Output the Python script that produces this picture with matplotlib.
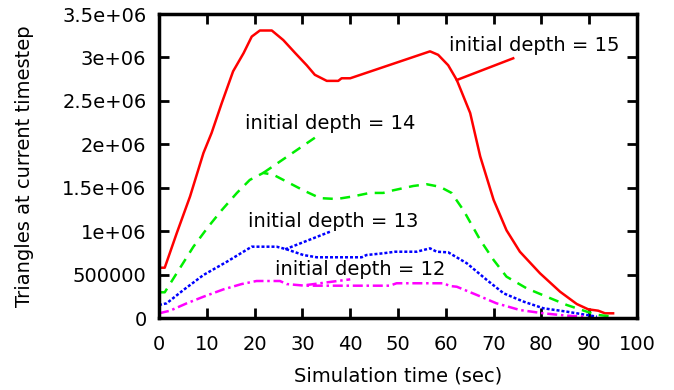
import matplotlib
matplotlib.use("Agg")
import matplotlib.pyplot as plt

# ── Data ──────────────────────────────────────────────────────────────
t15 = [0, 1.2, 3.7, 6.5, 9.3, 11, 13.1, 15.5, 17.7, 19.4, 21.1, 23.6, 26, 28.5,
       30.9, 32.6, 35.1, 37.5, 38.2, 40, 56.7, 58.4, 60.5, 62.3, 65.1, 67.2,
       70, 72.7, 75.5, 79.7, 83.9, 87.4, 89.8, 91.9, 93.3, 95]
y15 = [579e3, 579e3, 975e3, 1.40e6, 1.90e6, 2.13e6, 2.47e6, 2.84e6, 3.05e6,
       3.24e6, 3.31e6, 3.31e6, 3.20e6, 3.05e6, 2.91e6, 2.80e6, 2.73e6, 2.73e6,
       2.76e6, 2.76e6, 3.07e6, 3.03e6, 2.91e6, 2.74e6, 2.36e6, 1.86e6, 1.36e6,
       1.01e6, 763e3, 515e3, 303e3, 161e3, 100e3, 84e3, 54e3, 54e3]

t14 = [0, 1.2, 3.7, 7.2, 10.3, 13.1, 16.3, 19.0, 21.8, 23.9, 26.7, 30.2, 33.7,
       37.2, 40.6, 44.1, 46.9, 49, 53.2, 56, 58.8, 61.2, 63.7, 67.2, 70, 72.7,
       76.9, 81.1, 85.3, 89.5, 91.9, 95]
y14 = [296e3, 296e3, 515e3, 821e3, 1.05e6, 1.24e6, 1.44e6, 1.59e6, 1.67e6,
       1.65e6, 1.57e6, 1.47e6, 1.38e6, 1.37e6, 1.40e6, 1.44e6, 1.44e6, 1.47e6,
       1.52e6, 1.54e6, 1.51e6, 1.44e6, 1.24e6, 898e3, 668e3, 476e3, 342e3,
       245e3, 150e3, 73e3, 35e3, 15e3]

t13 = [0, 1.6, 5.1, 9.3, 14.2, 19.4, 24.6, 26.7, 30.2, 33, 42.4, 43.4, 46.9,
       49.4, 53.9, 56.7, 58.1, 60.5, 64.4, 68.6, 72.1, 76.3, 80.4, 85.3, 89.5,
       91.6]
y13 = [150e3, 169e3, 322e3, 495e3, 648e3, 821e3, 821e3, 791e3, 725e3, 699e3,
       699e3, 725e3, 745e3, 763e3, 763e3, 802e3, 763e3, 756e3, 630e3, 437e3,
       284e3, 188e3, 112e3, 73e3, 35e3, 15e3]

t12 = [0, 2.3, 5.8, 9.3, 13.5, 17.3, 20.4, 25.3, 26.7, 30.5, 48.3, 49.7, 59.5,
       60.9, 62.3, 66.5, 70.6, 75.5, 80.4, 85.3, 89.5]
y12 = [54e3, 84e3, 169e3, 245e3, 330e3, 391e3, 426e3, 426e3, 391e3, 372e3,
       372e3, 400e3, 400e3, 368e3, 360e3, 265e3, 169e3, 92e3, 54e3, 27e3, 15e3]

labels = ["initial depth = 15", "initial depth = 14",
          "initial depth = 13", "initial depth = 12"]
label_pos = [(78.5, 3.14e6), (35.8, 2.24e6), (36.5, 1.11e6), (42.0, 0.553e6)]
pointer_x = [(62.3, 74.1), (21.8, 33.0), (26.4, 35.8), (30.9, 40.0)]
pointer_y = [(2.74e6, 2.99e6), (1.67e6, 2.09e6), (0.791e6, 0.994e6), (0.38e6, 0.445e6)]

xticks = [0, 10, 20, 30, 40, 50, 60, 70, 80, 90, 100]
yticks = [0, 500000, 1e6, 1.5e6, 2e6, 2.5e6, 3e6, 3.5e6]
ytick_labels = ["0", "500000", "1e+06", "1.5e+06", "2e+06", "2.5e+06", "3e+06", "3.5e+06"]

colors = ["#ff0000", "#00ee00", "#0000ff", "#ff00ff"]
styles = ["-", (0, (4, 3)), (0, (1.2, 0.8)), (0, (4, 1.5, 1, 1.5))]

# ── Figure ─────────────────────────────────────────────────────────────
fig = plt.figure(figsize=(6.74, 3.90), dpi=100)
ax = fig.add_axes([159 / 674, 72 / 390, 478 / 674, 304 / 390])

series = [(t15, y15), (t14, y14), (t13, y13), (t12, y12)]
for (t, y), c, ls, lab, lp, px, py in zip(series, colors, styles, labels,
                                          label_pos, pointer_x, pointer_y):
    ax.plot(t, y, color=c, lw=1.8, ls=ls, solid_joinstyle="round")
    ax.plot(px, py, color=c, lw=1.8, ls=ls)
    ax.text(lp[0], lp[1], lab, ha="center", va="center", fontsize=14)

ax.set_xlim(0, 100)
ax.set_ylim(0, 3.5e6)
ax.set_xticks(xticks)
ax.set_yticks(yticks)
ax.set_yticklabels(ytick_labels)
ax.tick_params(direction="in", length=7, width=2, labelsize=14,
               top=True, right=True)
ax.tick_params(axis="x", pad=12)
ax.tick_params(axis="y", pad=9)
for s in ax.spines.values():
    s.set_linewidth(2.5)

ax.set_xlabel("Simulation time (sec)", fontsize=14, labelpad=9)
ax.set_ylabel("Triangles at current timestep", fontsize=14, labelpad=20)

fig.savefig("out.png", dpi=100)
